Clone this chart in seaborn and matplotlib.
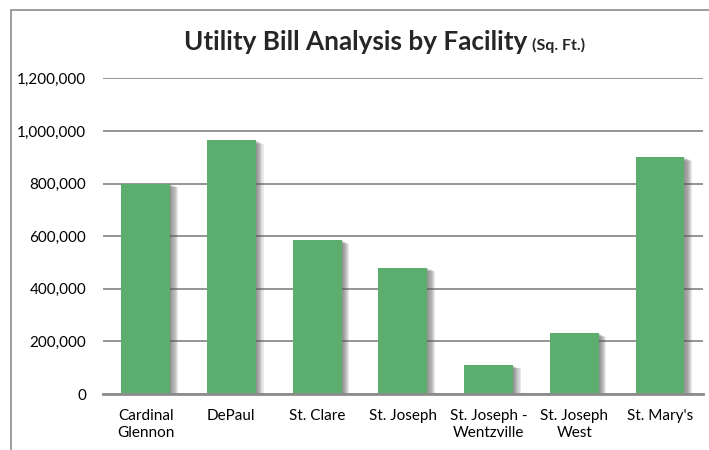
import matplotlib
matplotlib.use("Agg")
import matplotlib.pyplot as plt
import matplotlib.patheffects as pe
from matplotlib.patches import Rectangle
from matplotlib.ticker import FuncFormatter
import seaborn as sns
import pandas as pd

facilities = ["Cardinal\nGlennon", "DePaul", "St. Clare", "St. Joseph",
              "St. Joseph -\nWentzville", "St. Joseph\nWest", "St. Mary's"]
sq_ft = [799000, 965000, 585000, 480000, 110000, 231000, 900000]
y_ticks = [0, 200000, 400000, 600000, 800000, 1000000, 1200000]

BAR_COLOR = "#5BAE6D"
GRID_COLOR = "#8C8C8C"

df = pd.DataFrame({"facility": facilities, "sqft": sq_ft})

sns.set_style("white")
plt.rcParams["font.family"] = ["Lato", "DejaVu Sans"]

fig = plt.figure(figsize=(7.09, 4.5), dpi=100)
ax = fig.add_axes([102.8 / 709, 1 - 394 / 450, 600 / 709, (394 - 78.4) / 450])

sns.barplot(data=df, x="facility", y="sqft", color=BAR_COLOR, width=0.57,
            saturation=1, linewidth=0, ax=ax, zorder=3)

# soft drop shadow: stacked translucent offsets
shadow = [pe.SimplePatchShadow(offset=(i * 0.8, -i * 0.35), shadow_rgbFace="#555555", alpha=0.13)
          for i in range(1, 8)]
for bar in ax.patches:
    bar.set_path_effects(shadow + [pe.Normal()])

ax.set_ylim(0, 1200000)
ax.set_xlim(-0.5, len(facilities) - 0.5)
ax.set_yticks(y_ticks)
ax.yaxis.set_major_formatter(FuncFormatter(lambda v, p: f"{int(v):,}"))
ax.grid(axis="y", color=GRID_COLOR, linewidth=1.3, zorder=0)
ax.set_axisbelow(True)
for s in ["top", "right", "left"]:
    ax.spines[s].set_visible(False)
ax.spines["bottom"].set_color(GRID_COLOR)
ax.spines["bottom"].set_linewidth(2)
ax.spines["bottom"].set_zorder(4)
ax.tick_params(axis="both", length=0, labelsize=11, colors="#000000")
ax.tick_params(axis="y", pad=12)
ax.tick_params(axis="x", pad=11)
for lbl in ax.get_xticklabels():
    lbl.set_linespacing(1.25)
ax.set_xlabel("")
ax.set_ylabel("")

# chart title
fig.text(527 / 709, 1 - 50 / 450, "Utility Bill Analysis by Facility", ha="right",
         va="baseline", fontsize=18.8, fontweight="bold")
fig.text(532 / 709, 1 - 50 / 450, "(Sq. Ft.)", ha="left", va="baseline",
         fontsize=11.5, fontweight="bold")

# outer chart border (cropped on right and bottom)
fig.patches.append(Rectangle((11 / 709, -0.1), 1.2, 1.1 - 10 / 450, transform=fig.transFigure,
                             fill=False, edgecolor=GRID_COLOR, linewidth=1.2))

fig.savefig("out.png", dpi=100)
